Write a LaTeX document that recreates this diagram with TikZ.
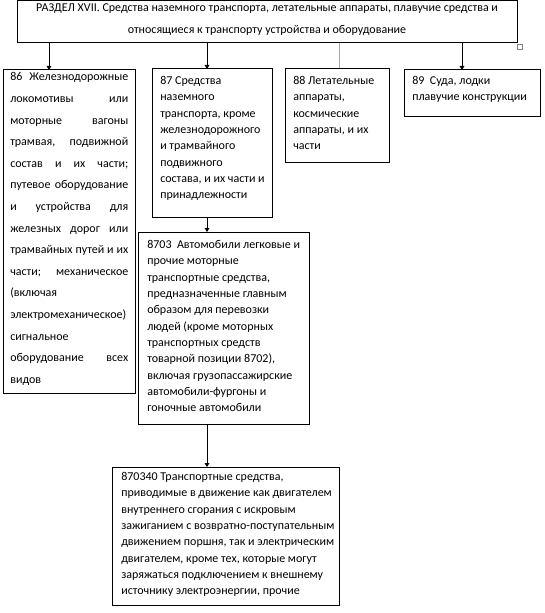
\documentclass[tikz,border=0pt]{standalone}
\usepackage{fontspec}
\setmainfont{Carlito}
\usetikzlibrary{arrows.meta,calc}
\begin{document}
\begin{tikzpicture}[x=0.75pt,y=-0.75pt,
  box/.style={draw=black,line width=0.75pt,anchor=north west,inner sep=0pt,outer sep=0pt},
  txt/.style={anchor=north west,inner sep=0pt,align=left,font=\fontsize{9pt}{12.26pt}\selectfont},
  arr/.style={line width=0.75pt,-{Triangle[length=3pt,width=3.5pt]}},
  gline/.style={line width=1.4pt,draw=gray!70,-{Bar[black,width=5pt,line width=1pt]}}]
\useasboundingbox (0,0) rectangle (544,613);
% boxes
\node[box,minimum width=500*0.75pt,minimum height=42.5*0.75pt] (top) at (17,0.5) {};
\node[box,minimum width=132*0.75pt,minimum height=323*0.75pt] (b86) at (3,70) {};
\node[box,minimum width=120*0.75pt,minimum height=148*0.75pt] (b87) at (152,69) {};
\node[box,minimum width=104*0.75pt,minimum height=93*0.75pt] (b88) at (285,69) {};
\node[box,minimum width=136*0.75pt,minimum height=47*0.75pt] (b89) at (404,70) {};
\node[box,minimum width=171*0.75pt,minimum height=192*0.75pt] (b8703) at (138,232) {};
\node[box,minimum width=227*0.75pt,minimum height=138*0.75pt] (b870340) at (112,467) {};
\draw[gray,line width=0.6pt] (517.5,44.5) rectangle (522.5,49.5);
% texts
\node[anchor=north,inner sep=0pt,align=center,font=\fontsize{9pt}{16.5pt}\selectfont] (ttop) at ($(top.north)+(0,2.5)$)
  {РАЗДЕЛ XVII. Средства наземного транспорта, летательные аппараты, плавучие средства и\\
   относящиеся к транспорту устройства и оборудование};
\node[txt,text width=118*0.75pt,font=\fontsize{9pt}{16.2pt}\selectfont] (t86) at ($(b86.north west)+(7,2.5)$)
  {86\hfill Железнодорожные\\
   локомотивы\hfill или\\
   моторные\hfill вагоны\\
   трамвая,\hfill подвижной\\
   состав\hfill и\hfill их\hfill части;\\
   путевое\hfill оборудование\\
   и\hfill устройства\hfill для\\
   железных\hfill дорог\hfill или\\
   трамвайных\hfill путей\hfill и\hfill их\\
   части;\hfill механическое\\
   (включая\\
   электромеханическое)\\
   сигнальное\\
   оборудование\hfill всех\\
   видов};
\node[txt] (t87) at ($(b87.north west)+(8,7)$)
  {87 Средства\\
   наземного\\
   транспорта, кроме\\
   железнодорожного\\
   и трамвайного\\
   подвижного\\
   состава, и их части и\\
   принадлежности};
\node[txt] (t88) at ($(b88.north west)+(8,7)$)
  {88 Летательные\\
   аппараты,\\
   космические\\
   аппараты, и их\\
   части};
\node[txt] (t89) at ($(b89.north west)+(8,6)$)
  {89\ \ Суда, лодки\\
   плавучие конструкции};
\node[txt] (t8703) at ($(b8703.north west)+(9,8)$)
  {8703\ \ Автомобили легковые и\\
   прочие моторные\\
   транспортные средства,\\
   предназначенные главным\\
   образом для перевозки\\
   людей (кроме моторных\\
   транспортных средств\\
   товарной позиции 8702),\\
   включая грузопассажирские\\
   автомобили-фургоны и\\
   гоночные автомобили};
\node[txt] (t870340) at ($(b870340.north west)+(9,5)$)
  {870340 Транспортные средства,\\
   приводимые в движение как двигателем\\
   внутреннего сгорания с искровым\\
   зажиганием с возвратно-поступательным\\
   движением поршня, так и электрическим\\
   двигателем, кроме тех, которые могут\\
   заряжаться подключением к внешнему\\
   источнику электроэнергии, прочие};
% connectors
\coordinate (c86) at (49,0);
\coordinate (c87) at (207,0);
\coordinate (c88) at (339.5,0);
\coordinate (c89) at (462,0);
\draw[arr] (top.south -| c86) -- (b86.north -| c86);
\draw[arr] (top.south -| c87) -- (b87.north -| c87);
\draw[gline] (top.south -| c88) -- (b88.north -| c88);
\draw[arr] (top.south -| c89) -- (b89.north -| c89);
\draw[arr] (b87.south -| c87) -- (b8703.north -| c87);
\draw[arr] (b8703.south -| c87) -- (b870340.north -| c87);
\end{tikzpicture}
\end{document}
